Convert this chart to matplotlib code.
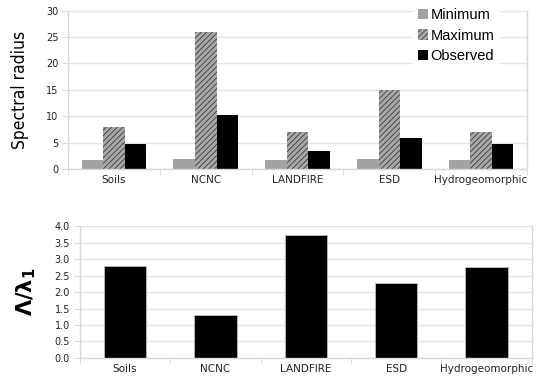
import numpy as np
import matplotlib.pyplot as plt

# data
categories = ['Soils', 'NCNC', 'LANDFIRE', 'ESD', 'Hydrogeomorphic']
minimum = [1.8, 2.0, 1.7, 2.0, 1.7]
maximum = [8.0, 26.0, 7.0, 15.0, 7.0]
observed = [4.8, 10.2, 3.5, 5.9, 4.8]
ratio = [2.78, 1.30, 3.74, 2.27, 2.77]

plt.rcParams['hatch.linewidth'] = 0.6
plt.rcParams['hatch.color'] = '#3a3a3a'

fig = plt.figure(figsize=(5.5, 3.8), dpi=100)
ax1 = fig.add_axes([0.124, 0.555, 0.834, 0.417])
ax2 = fig.add_axes([0.145, 0.058, 0.822, 0.347])

x = np.arange(len(categories))


def style_axes(ax, yticks, fmt):
    ax.set_xlim(-0.5, len(categories) - 0.5)
    ax.set_ylim(yticks[0], yticks[-1])
    ax.set_yticks(yticks)
    ax.set_yticklabels([fmt.format(v) for v in yticks], fontsize=7,
                       color='#222222')
    ax.yaxis.grid(True, color='#e4e4e4', linewidth=1)
    ax.set_axisbelow(True)
    ax.spines['top'].set_visible(False)
    for s in ['left', 'right', 'bottom']:
        ax.spines[s].set_color('#d8d8d8')
        ax.spines[s].set_linewidth(1)
    ax.tick_params(axis='y', length=4, color='#d8d8d8', pad=3)
    # category labels in the middle, ticks on the boundaries
    ax.set_xticks(x)
    ax.set_xticklabels(categories, fontsize=7.5, color='#222222')
    ax.tick_params(axis='x', which='major', length=0, pad=4)
    ax.set_xticks(np.arange(len(categories) + 1) - 0.5, minor=True)
    ax.tick_params(axis='x', which='minor', length=4, color='#d8d8d8')


# top chart
w = 0.235
ax1.bar(x - w, minimum, w, color='#a3a3a3', label='Minimum')
ax1.bar(x, maximum, w, color='#a8a8a8', hatch='//////',
        edgecolor='#3a3a3a', linewidth=0, label='Maximum')
ax1.bar(x + w, observed, w, color='black', label='Observed')
style_axes(ax1, [0, 5, 10, 15, 20, 25, 30], '{:d}')
ax1.set_ylabel('Spectral radius', fontsize=12.5, family='DejaVu Sans',
               stretch='condensed', labelpad=12)

leg = ax1.legend(loc='upper right', bbox_to_anchor=(0.955, 1.09),
                 frameon=True, fancybox=False, edgecolor='white',
                 facecolor='white', framealpha=1,
                 prop={'family': 'Liberation Sans', 'size': 10.5},
                 handlelength=0.7, handleheight=0.7, handletextpad=0.2,
                 labelspacing=0.45, borderpad=0.3)

# bottom chart
ax2.bar(x, ratio, 0.47, color='black', edgecolor='#bbbbbb', linewidth=0.6)
style_axes(ax2, [0.0, 0.5, 1.0, 1.5, 2.0, 2.5, 3.0, 3.5, 4.0], '{:.1f}')
ax2.set_ylabel(r'$\mathbf{\Lambda/\lambda_1}$', fontsize=15, labelpad=12)

fig.savefig('out.png', dpi=100)
